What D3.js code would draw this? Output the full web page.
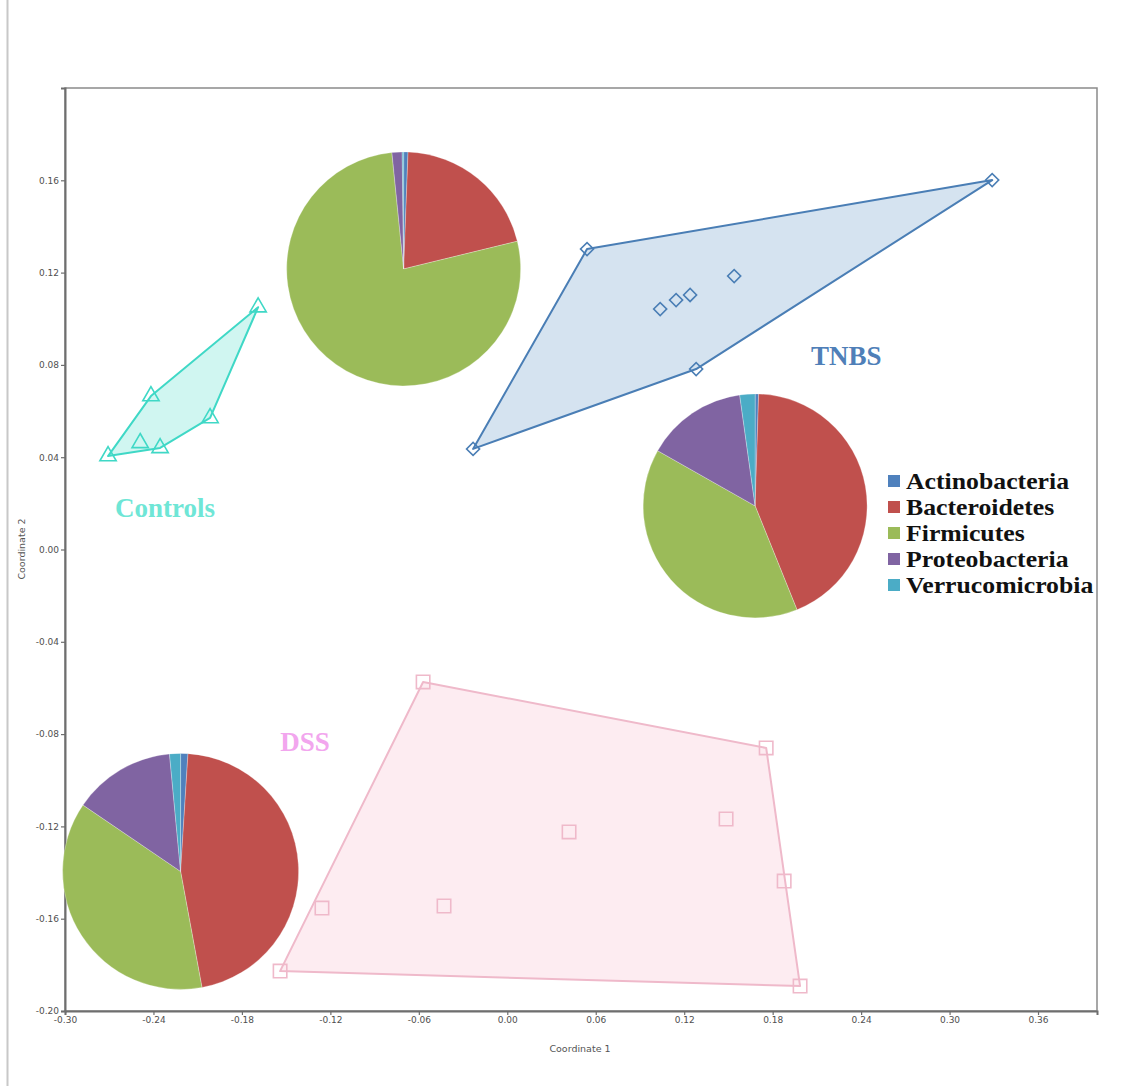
<!DOCTYPE html>
<html>
<head>
<meta charset="utf-8">
<script src="https://cdn.jsdelivr.net/npm/d3@7"></script>
<style>
  html, body { margin: 0; padding: 0; background: #fff; }
  svg { display: block; }
</style>
</head>
<body>
<svg id="chart" width="1146" height="1086"></svg>
<script>
// PCoA ordination of the three groups, with phylum composition pies

const xTicks = [-0.30, -0.24, -0.18, -0.12, -0.06, 0.00, 0.06, 0.12, 0.18, 0.24, 0.30, 0.36];
const yTicks = [-0.20, -0.16, -0.12, -0.08, -0.04, 0.00, 0.04, 0.08, 0.12, 0.16];

const controlsX = [-0.2708, -0.2490, -0.2355, -0.2417, -0.2016, -0.1690];
const controlsY = [ 0.0405,  0.0462,  0.0440,  0.0665,  0.0570,  0.1050];

const tnbsX = [-0.0232, 0.0541, 0.3289, 0.1281, 0.1037, 0.1145, 0.1240, 0.1539];
const tnbsY = [ 0.0436, 0.1302, 0.1601, 0.0782, 0.1042, 0.1081, 0.1103, 0.1185];

const dssX = [-0.0571, 0.1756, 0.1484, 0.0419, 0.1878, 0.1986, -0.1541, -0.1257, -0.0429];
const dssY = [-0.0574, -0.0860, -0.1168, -0.1224, -0.1437, -0.1892, -0.1827, -0.1554, -0.1545];

const phyla = ["Actinobacteria", "Bacteroidetes", "Firmicutes", "Proteobacteria", "Verrucomicrobia"];
const phylumColors = ["#4f81bd", "#c0504d", "#9bbb59", "#8064a2", "#4bacc6"];

// relative abundance (%) per group, same order as phyla
const controlsPie = [0.6, 20.6, 77.2, 1.4, 0.2];
const tnbsPie     = [0.5, 43.4, 39.3, 14.6, 2.2];
const dssPie      = [1.0, 46.1, 37.4, 14.0, 1.5];

const svg = d3.select("#chart");
const W = 1146, H = 1086;
const plot = { left: 65, right: 1097, top: 88, bottom: 1011 };

svg.append("rect").attr("width", W).attr("height", H).attr("fill", "#fff");
// page edge rule on the left
svg.append("line").attr("x1", 7.5).attr("x2", 7.5).attr("y1", 0).attr("y2", H)
  .attr("stroke", "#c8c8c8").attr("stroke-width", 2);

const x = d3.scaleLinear().domain([-0.30, 0.40]).range([plot.left, plot.right]);
const y = d3.scaleLinear().domain([-0.20, 0.20]).range([plot.bottom, plot.top]);

// frame
svg.append("rect")
  .attr("x", plot.left).attr("y", plot.top)
  .attr("width", plot.right - plot.left).attr("height", plot.bottom - plot.top)
  .attr("fill", "none").attr("stroke", "#8a8a8a").attr("stroke-width", 1.5);

const fmt = d => d.toFixed(2);

const xAxis = svg.append("g")
  .attr("transform", `translate(0,${plot.bottom})`)
  .call(d3.axisBottom(x).tickValues(xTicks).tickFormat(fmt).tickSizeOuter(0).tickSize(4).tickPadding(2));
const yAxis = svg.append("g")
  .attr("transform", `translate(${plot.left},0)`)
  .call(d3.axisLeft(y).tickValues(yTicks).tickFormat(fmt).tickSizeOuter(0).tickSize(4).tickPadding(2));

[xAxis, yAxis].forEach(g => {
  g.select(".domain").attr("stroke", "#6e6e6e").attr("stroke-width", 2);
  g.selectAll(".tick line").attr("stroke", "#6e6e6e").attr("stroke-width", 1.2);
  g.selectAll(".tick text").attr("fill", "#505050").attr("font-family", "DejaVu Sans, sans-serif").attr("font-size", 9);
});

svg.append("text").attr("x", 580).attr("y", 1052).attr("text-anchor", "middle")
  .attr("font-family", "DejaVu Sans, sans-serif").attr("font-size", 9.5).attr("fill", "#555")
  .text("Coordinate 1");
svg.append("text").attr("transform", "translate(25,549) rotate(-90)").attr("text-anchor", "middle")
  .attr("font-family", "DejaVu Sans, sans-serif").attr("font-size", 9.5).attr("fill", "#555")
  .text("Coordinate 2");

// groups: convex hull + markers
const groups = [
  { xs: controlsX, ys: controlsY, stroke: "#3fd8c6", fill: "#cdf5f0", symbol: d3.symbolTriangle, size: 115, rotate: 0 },
  { xs: tnbsX, ys: tnbsY, stroke: "#4a7eb5", fill: "#d3e1ef", symbol: d3.symbolSquare, size: 85, rotate: 45 },
  { xs: dssX, ys: dssY, stroke: "#efb9ca", fill: "#fdebf0", symbol: d3.symbolSquare, size: 180, rotate: 0 }
];

groups.forEach(gr => {
  const pts = gr.xs.map((v, i) => [x(v), y(gr.ys[i])]);
  const hull = d3.polygonHull(pts);
  svg.append("path")
    .attr("d", "M" + hull.map(p => p.join(",")).join("L") + "Z")
    .attr("fill", gr.fill).attr("fill-opacity", 0.95)
    .attr("stroke", gr.stroke).attr("stroke-width", 2).attr("stroke-linejoin", "round");
  svg.append("g").selectAll("path").data(pts).join("path")
    .attr("d", d3.symbol().type(gr.symbol).size(gr.size))
    .attr("transform", p => `translate(${p[0]},${p[1]}) rotate(${gr.rotate})`)
    .attr("fill", "none").attr("stroke", gr.stroke).attr("stroke-width", 1.6);
});

// group labels
const labelFont = "Liberation Serif, Times New Roman, serif";
[
  { t: "Controls", px: -0.2322, py: 0.0180, c: "#6fe6d6" },
  { t: "TNBS", px: 0.2300, py: 0.0840, c: "#4f7fb8" },
  { t: "DSS", px: -0.1372, py: -0.0834, c: "#f2a6ee" }
].forEach(l => {
  svg.append("text").attr("x", x(l.px)).attr("y", y(l.py))
    .attr("text-anchor", "middle").attr("dominant-baseline", "central")
    .attr("font-family", labelFont).attr("font-weight", "bold").attr("font-size", 27)
    .attr("fill", l.c).text(l.t);
});

// composition pies anchored in ordination space
const pies = [
  { values: controlsPie, cx: -0.0703, cy: 0.1216, r: 117 },
  { values: tnbsPie, cx: 0.1681, cy: 0.0189, r: 112 },
  { values: dssPie, cx: -0.2216, cy: -0.1395, r: 118 }
];
const pieGen = d3.pie().sort(null).value(d => d);
pies.forEach(p => {
  const arc = d3.arc().innerRadius(0).outerRadius(p.r);
  svg.append("g").attr("transform", `translate(${x(p.cx)},${y(p.cy)})`)
    .selectAll("path").data(pieGen(p.values)).join("path")
    .attr("d", arc)
    .attr("fill", (d, i) => phylumColors[i])
    .attr("stroke", "#ffffff").attr("stroke-opacity", 0.35).attr("stroke-width", 0.8);
});

// legend (wide bold serif, tightly stacked rows)
const legend = svg.append("g").attr("transform", "translate(888,481)");
phyla.forEach((name, i) => {
  const row = legend.append("g").attr("transform", `translate(0,${i * 26})`);
  row.append("rect").attr("x", 0).attr("y", -6).attr("width", 12).attr("height", 12)
    .attr("fill", phylumColors[i]);
  row.append("text").attr("transform", "translate(18,0) scale(1.12,1)")
    .attr("dominant-baseline", "central")
    .attr("font-family", labelFont).attr("font-weight", "bold").attr("font-size", 23)
    .attr("fill", "#111").text(name);
});
</script>
</body>
</html>
